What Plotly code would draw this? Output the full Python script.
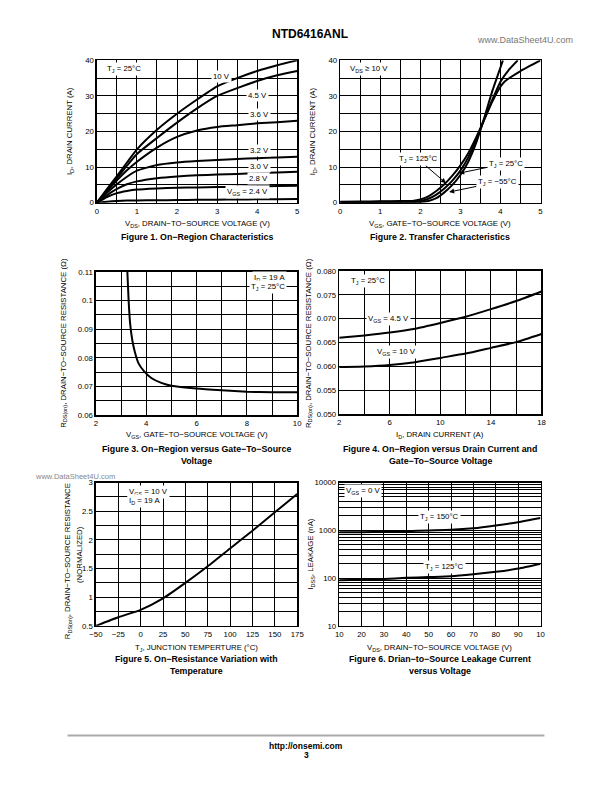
import math
import plotly.graph_objects as go

W, H = 612, 792
FONT = "Liberation Sans"

# ---------------- data ----------------
# Figure 1: On-region characteristics (ID vs VDS)
fig1_vds = [0, 0.25, 0.5, 0.75, 1, 1.5, 2, 2.5, 3, 3.5, 4, 4.5, 5]
fig1_id_10v = [0, 3.8, 7.5, 11.3, 15, 20.5, 25, 29, 32.7, 35, 37, 38.6, 40]
fig1_id_4v5 = [0, 3.5, 7, 10.4, 13.7, 18.2, 22.5, 26.5, 30, 32.2, 34.2, 35.8, 37]
fig1_id_3v6 = [0, 3.2, 6.3, 9.1, 11.5, 15.5, 18.5, 20.3, 21.3, 21.8, 22.3, 22.6, 23.0]
fig1_id_3v2 = [0, 2.8, 5.2, 7.3, 9.0, 10.6, 11.3, 11.7, 12.0, 12.3, 12.5, 12.7, 12.9]
fig1_id_3v0 = [0, 2.1, 3.9, 5.2, 6.0, 6.9, 7.4, 7.7, 7.9, 8.1, 8.3, 8.5, 8.7]
fig1_id_2v8 = [0, 1.6, 2.7, 3.3, 3.7, 4.0, 4.2, 4.3, 4.4, 4.5, 4.6, 4.7, 4.8]
fig1_id_2v4 = [0, 0.3, 0.5, 0.6, 0.65, 0.7, 0.75, 0.8, 0.85, 0.9, 0.95, 1.0, 1.05]

# Figure 2: Transfer characteristics (ID vs VGS)
fig2_vgs_125 = [0, 0.5, 1, 1.5, 1.8, 2.0, 2.2, 2.4, 2.6, 2.8, 3.0, 3.2, 3.4, 3.6, 3.8, 4.0, 4.1, 4.5, 5.0]
fig2_id_125 = [0.3, 0.35, 0.4, 0.45, 0.5, 0.9, 1.8, 3.3, 5.2, 7.6, 10.5, 14.0, 18.5, 23.5, 28.5, 32.6, 34.0, 37.0, 40.0]
fig2_vgs_25 = [0, 0.5, 1, 1.5, 1.8, 2.0, 2.2, 2.4, 2.6, 2.8, 3.0, 3.2, 3.4, 3.6, 3.8, 4.0, 4.2, 4.43]
fig2_id_25 = [0.2, 0.2, 0.25, 0.25, 0.3, 0.5, 1.1, 2.3, 4.0, 6.2, 9.0, 12.8, 17.8, 23.5, 29.0, 34.0, 37.2, 40.0]
fig2_vgs_m55 = [0, 0.5, 1, 1.5, 1.8, 2.0, 2.2, 2.4, 2.6, 2.8, 3.0, 3.2, 3.4, 3.6, 3.8, 4.0, 4.06]
fig2_id_m55 = [0.1, 0.1, 0.15, 0.15, 0.15, 0.2, 0.5, 1.3, 2.9, 5.0, 7.8, 11.6, 17.0, 24.0, 31.5, 38.0, 40.0]

# Figure 3: RDS(on) vs VGS
fig3_vgs = [3.25, 3.3, 3.36, 3.45, 3.55, 3.7, 3.9, 4.2, 4.6, 5.0, 6.0, 7.0, 8.0, 9.0, 10.0]
fig3_rds = [0.110, 0.100, 0.092, 0.086, 0.082, 0.078, 0.0755, 0.073, 0.0713, 0.0703, 0.0693, 0.0687, 0.0682, 0.0680, 0.0680]

# Figure 4: RDS(on) vs ID
fig4_id = [2, 4, 6, 8, 10, 12, 14, 16, 18]
fig4_rds_4v5 = [0.0660, 0.0665, 0.0671, 0.0679, 0.0691, 0.0704, 0.0720, 0.0737, 0.0757]
fig4_rds_10v = [0.0599, 0.0600, 0.0603, 0.0609, 0.0618, 0.0627, 0.0639, 0.0651, 0.0668]

# Figure 5: normalized RDS(on) vs TJ
fig5_tj = [-50, -25, 0, 25, 50, 75, 100, 125, 150, 175]
fig5_rds = [0.50, 0.65, 0.78, 0.98, 1.25, 1.54, 1.85, 2.16, 2.48, 2.80]

# Figure 6: IDSS leakage vs VDS
fig6_vds = [10, 20, 30, 40, 50, 60, 70, 80, 90, 100]
fig6_idss_150 = [910, 915, 930, 960, 990, 1020, 1100, 1260, 1480, 1810]
fig6_idss_125 = [90, 92, 96, 101, 105, 109, 120, 135, 158, 200]
fig6_xticks = [10, 20, 30, 40, 50, 60, 70, 80, 90, 100]
fig6_xticktext = ["10", "20", "30", "40", "50", "60", "70", "80", "90", "10"]
fig6_yticks = [10, 100, 1000, 10000]
fig6_minor = [m * d for d in (10, 100, 1000) for m in range(2, 10)]

# ---------------- helpers ----------------
def dxd(a, b):
    return [a / W, b / W]

def dyd(top, bottom):
    return [1 - bottom / H, 1 - top / H]

TICKFONT = dict(family=FONT, size=7.8, color="black")

def axis(domain, rng, anchor, dtick=None, tick0=None, minor_dtick=None, **kw):
    d = dict(domain=domain, range=rng, anchor=anchor, showline=True, mirror=True,
             linecolor="black", linewidth=1.5, showgrid=True, gridcolor="black",
             gridwidth=1, zeroline=False, ticks="", tickfont=TICKFONT, fixedrange=True)
    if dtick is not None:
        d["dtick"] = dtick
    if tick0 is not None:
        d["tick0"] = tick0
    if minor_dtick is not None:
        d["minor"] = dict(dtick=minor_dtick, showgrid=True, gridcolor="black", gridwidth=1)
    d.update(kw)
    return d

fig = go.Figure()
LINE = dict(color="black", width=2, shape="spline", smoothing=0.5)

def add(x, y, xa, ya):
    fig.add_trace(go.Scatter(x=x, y=y, mode="lines", line=LINE, xaxis=xa, yaxis=ya,
                             hoverinfo="skip", showlegend=False))

for ys in [fig1_id_10v, fig1_id_4v5, fig1_id_3v6, fig1_id_3v2, fig1_id_3v0, fig1_id_2v8, fig1_id_2v4]:
    add(fig1_vds, ys, "x", "y")
add(fig2_vgs_125, fig2_id_125, "x2", "y2")
add(fig2_vgs_25, fig2_id_25, "x2", "y2")
add(fig2_vgs_m55, fig2_id_m55, "x2", "y2")
add(fig3_vgs, fig3_rds, "x3", "y3")
add(fig4_id, fig4_rds_4v5, "x4", "y4")
add(fig4_id, fig4_rds_10v, "x4", "y4")
add(fig5_tj, fig5_rds, "x5", "y5")
add(fig6_vds, fig6_idss_150, "x6", "y6")
add(fig6_vds, fig6_idss_125, "x6", "y6")

L, R = 92, 297
L2, R2 = 341, 546
r1 = (57, 201)
r2 = (271, 416)
r3 = (484, 629)

layout = dict(
    width=W, height=H, autosize=False, margin=dict(l=0, r=0, t=0, b=0),
    paper_bgcolor="white", plot_bgcolor="white", showlegend=False,
    font=dict(family=FONT, color="black"),
    xaxis=axis(dxd(L, R), [0, 5], "y", dtick=1, minor_dtick=0.5),
    yaxis=axis(dyd(*r1), [0, 40], "x", dtick=10, minor_dtick=5),
    xaxis2=axis(dxd(L2, R2), [0, 5], "y2", dtick=1, minor_dtick=0.5),
    yaxis2=axis(dyd(*r1), [0, 40], "x2", dtick=10, minor_dtick=5),
    xaxis3=axis(dxd(91, R), [2, 10], "y3", dtick=2, tick0=2, minor_dtick=1),
    yaxis3=axis(dyd(*r2), [0.06, 0.11], "x3", dtick=0.01, tick0=0.06, minor_dtick=0.005),
    xaxis4=axis(dxd(340, 547), [2, 18], "y4", dtick=4, tick0=2, minor_dtick=2),
    yaxis4=axis(dyd(270, 415), [0.05, 0.08], "x4", dtick=0.005, tick0=0.05, tickformat=".3f"),
    xaxis5=axis(dxd(91, R), [-50, 175], "y5", dtick=25, tick0=-50),
    yaxis5=axis(dyd(*r3), [0.5, 3], "x5", dtick=0.5, tick0=0.5, minor_dtick=0.25),
    xaxis6=axis(dxd(340, R2), [10, 100], "y6", tickmode="array", tickvals=fig6_xticks,
                ticktext=fig6_xticktext),
    yaxis6=axis(dyd(*r3), [1, 4], "x6", type="log", tickmode="array", tickvals=fig6_yticks,
                ticktext=[str(v) for v in fig6_yticks],
                minor=dict(tickmode="array", tickvals=fig6_minor, showgrid=True,
                           gridcolor="black", gridwidth=1)),
)
fig.update_layout(**layout)

ann = []

def ptxt(x, y, text, size=7.8, bold=False, angle=0, color="black", xanchor="center"):
    t = f"<b>{text}</b>" if bold else text
    ann.append(dict(x=x / W, y=1 - y / H, xref="paper", yref="paper", text=t, showarrow=False,
                    textangle=angle, xanchor=xanchor, yanchor="middle",
                    font=dict(family=FONT, size=size, color=color)))

def dtxt(xr, yr, x, y, text, xanchor="center"):
    ann.append(dict(x=x, y=y, xref=xr, yref=yr, text=text, showarrow=False, bgcolor="white",
                    xanchor=xanchor, yanchor="middle", borderpad=1,
                    font=dict(family=FONT, size=7.8, color="black")))

# page header/footer
ptxt(310, 30, "NTD6416ANL", size=12, bold=True)
ptxt(530, 36, "www.DataSheet4U.com", size=9, color="#777777")
ptxt(70, 478, "www.DataSheet4U.com", size=7.5, color="#888888")
ptxt(306, 751, "http://onsemi.com", size=8.5, bold=True)
ptxt(306, 760, "3", size=8.5, bold=True)

# axis titles
ptxt(194.5, 223, "V<sub>DS</sub>, DRAIN−TO−SOURCE VOLTAGE (V)")
ptxt(194.5, 236, "Figure 1. On−Region Characteristics", size=8.8, bold=True)
ptxt(64, 129, "I<sub>D</sub>, DRAIN CURRENT (A)", angle=-90)
ptxt(443.5, 223, "V<sub>GS</sub>, GATE−TO−SOURCE VOLTAGE (V)")
ptxt(443.5, 236, "Figure 2. Transfer Characteristics", size=8.8, bold=True)
ptxt(313, 129, "I<sub>D</sub>, DRAIN CURRENT (A)", angle=-90)

ptxt(194, 436, "V<sub>GS</sub>, GATE−TO−SOURCE VOLTAGE (V)")
ptxt(194, 450, "Figure 3. On−Region versus Gate−To−Source", size=8.8, bold=True)
ptxt(194, 462, "Voltage", size=8.8, bold=True)
ptxt(58, 343, "R<sub>DS(on)</sub>, DRAIN−TO−SOURCE RESISTANCE (Ω)", angle=-90)
ptxt(443.5, 436, "I<sub>D</sub>, DRAIN CURRENT (A)")
ptxt(443.5, 450, "Figure 4. On−Region versus Drain Current and", size=8.8, bold=True)
ptxt(443.5, 462, "Gate−To−Source Voltage", size=8.8, bold=True)
ptxt(309, 343, "R<sub>DS(on)</sub>, DRAIN−TO−SOURCE RESISTANCE (Ω)", angle=-90)

ptxt(194, 651, "T<sub>J</sub>, JUNCTION TEMPERTURE (°C)")
ptxt(194, 663, "Figure 5. On−Resistance Variation with", size=8.8, bold=True)
ptxt(194, 675, "Temperature", size=8.8, bold=True)
ptxt(62, 564, "R<sub>DS(on)</sub>, DRAIN−TO−SOURCE RESISTANCE", angle=-90)
ptxt(74, 557, "(NORMALIZED)", angle=-90)
ptxt(443, 651, "V<sub>DS</sub>, DRAIN−TO−SOURCE VOLTAGE (V)")
ptxt(443, 663, "Figure 6. Drian−to−Source Leakage Current", size=8.8, bold=True)
ptxt(443, 675, "versus Voltage", size=8.8, bold=True)
ptxt(311, 556, "I<sub>DSS</sub>, LEAKAGE (nA)", angle=-90)

# in-plot labels
dtxt("x", "y", 0.2, 37.6, "T<sub>J</sub> = 25°C", xanchor="left")
dtxt("x", "y", 3.1, 35.6, "10 V")
dtxt("x", "y", 4.0, 30.2, "4.5 V")
dtxt("x", "y", 4.06, 24.9, "3.6 V")
dtxt("x", "y", 4.06, 14.8, "3.2 V")
dtxt("x", "y", 4.06, 10.3, "3.0 V")
dtxt("x", "y", 4.04, 6.8, "2.8 V")
dtxt("x", "y", 3.75, 2.9, "V<sub>GS</sub> = 2.4 V")

dtxt("x2", "y2", 0.2, 37.6, "V<sub>DS</sub> ≥ 10 V", xanchor="left")
for tip, tail, text in [((2.64, 5.5), (1.95, 12.2), "T<sub>J</sub> = 125°C"),
                        ((2.97, 8.3), (4.13, 11.0), "T<sub>J</sub> = 25°C"),
                        ((2.72, 3.0), (3.92, 5.8), "T<sub>J</sub> = −55°C")]:
    ann.append(dict(x=tip[0], y=tip[1], ax=tail[0], ay=tail[1], xref="x2", yref="y2",
                    axref="x2", ayref="y2", text=text, showarrow=True, arrowhead=2,
                    arrowsize=1, arrowwidth=1, arrowcolor="black", bgcolor="white",
                    font=dict(family=FONT, size=7.8, color="black")))

dtxt("x3", "y3", 9.6, 0.1078, "I<sub>D</sub> = 19 A", xanchor="right")
dtxt("x3", "y3", 9.6, 0.1048, "T<sub>J</sub> = 25°C", xanchor="right")

dtxt("x4", "y4", 2.8, 0.0779, "T<sub>J</sub> = 25°C", xanchor="left")
dtxt("x4", "y4", 5.9, 0.0700, "V<sub>GS</sub> = 4.5 V")
dtxt("x4", "y4", 6.5, 0.0631, "V<sub>GS</sub> = 10 V")

dtxt("x5", "y5", -15, 2.84, "V<sub>GS</sub> = 10 V", xanchor="left")
dtxt("x5", "y5", -15, 2.68, "I<sub>D</sub> = 19 A", xanchor="left")

# log axis: annotation y is given in log10 units
dtxt("x6", "y6", 12, math.log10(6500), "V<sub>GS</sub> = 0 V", xanchor="left")
dtxt("x6", "y6", 55, math.log10(1880), "T<sub>J</sub> = 150°C")
dtxt("x6", "y6", 57, math.log10(170), "T<sub>J</sub> = 125°C")

fig.update_layout(annotations=ann)
fig.add_shape(type="line", xref="paper", yref="paper", x0=62 / W, x1=550 / W,
              y0=1 - 740 / H, y1=1 - 740 / H, line=dict(color="#aaaaaa", width=2))

fig.write_html(
    "out.html",
    config={"displayModeBar": False, "staticPlot": True},
    post_script="document.body.style.margin='0px';document.documentElement.style.overflow='hidden';document.body.style.overflow='hidden';",
)
